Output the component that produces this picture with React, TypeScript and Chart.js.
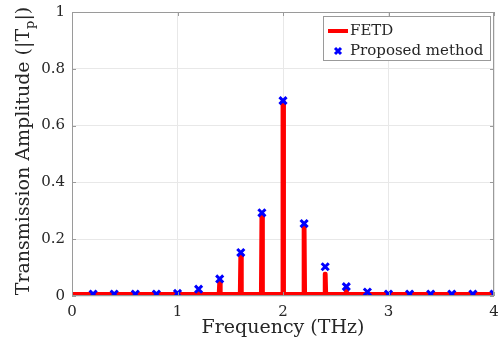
import React, { useEffect, useRef } from 'react';
import { Chart, registerables } from 'chart.js';

Chart.register(...registerables);

// FETD curve (THz, |Tp|): flat floor with narrow resonant spikes
const fetdFreq = [
  0,
  1.191, 1.196, 1.204, 1.209,
  1.391, 1.396, 1.404, 1.409,
  1.591, 1.596, 1.604, 1.609,
  1.791, 1.796, 1.804, 1.809,
  1.991, 1.996, 2.004, 2.009,
  2.191, 2.196, 2.204, 2.209,
  2.391, 2.396, 2.404, 2.409,
  2.591, 2.596, 2.604, 2.609,
  4,
];
const fetdAmp = [
  0.007,
  0.007, 0.012, 0.012, 0.007,
  0.007, 0.05, 0.05, 0.007,
  0.007, 0.145, 0.145, 0.007,
  0.007, 0.285, 0.285, 0.007,
  0.007, 0.683, 0.683, 0.007,
  0.007, 0.245, 0.245, 0.007,
  0.007, 0.078, 0.078, 0.007,
  0.007, 0.019, 0.019, 0.007,
  0.007,
];

// Proposed method samples
const methodFreq = [0.2, 0.4, 0.6, 0.8, 1.0, 1.2, 1.4, 1.6, 1.8, 2.0, 2.2, 2.4, 2.6, 2.8, 3.0, 3.2, 3.4, 3.6, 3.8, 4.0];
const methodAmp = [0.007, 0.007, 0.007, 0.007, 0.009, 0.024, 0.06, 0.153, 0.293, 0.688, 0.255, 0.103, 0.033, 0.014, 0.007, 0.007, 0.007, 0.007, 0.007, 0.007];

const xTicks = [0, 1, 2, 3, 4];
const yTicks = [0, 0.2, 0.4, 0.6, 0.8, 1];

const xTitle = 'Frequency (THz)';
const yTitleMain = 'Transmission Amplitude (|T';
const yTitleSub = 'p';
const yTitleEnd = '|)';
const seriesLabels = ['FETD', 'Proposed method'];

const FONT = "'DejaVu Serif', serif";
const TEXT = '#262626';
const AXIS = '#9a9a9a';
const RED = '#ff0000';
const BLUE = '#0000ff';

const framePlugin = {
  id: 'frame',
  afterDatasetsDraw(chart: any) {
    const { ctx, chartArea: a, scales } = chart;
    ctx.save();
    ctx.strokeStyle = AXIS;
    ctx.lineWidth = 1;
    ctx.strokeRect(a.left + 0.5, a.top + 0.5, a.right - a.left - 1, a.bottom - a.top - 1);
    ctx.beginPath();
    for (const v of xTicks) {
      const px = Math.round(scales.x.getPixelForValue(v)) + 0.5;
      ctx.moveTo(px, a.bottom);
      ctx.lineTo(px, a.bottom - 4);
      ctx.moveTo(px, a.top);
      ctx.lineTo(px, a.top + 4);
    }
    for (const v of yTicks) {
      const py = Math.round(scales.y.getPixelForValue(v)) + 0.5;
      ctx.moveTo(a.left, py);
      ctx.lineTo(a.left + 4, py);
      ctx.moveTo(a.right, py);
      ctx.lineTo(a.right - 4, py);
    }
    ctx.stroke();
    ctx.restore();
  },
  afterDraw(chart: any) {
    const { ctx, chartArea: a } = chart;
    ctx.save();
    ctx.fillStyle = TEXT;
    // x title
    ctx.font = `19px ${FONT}`;
    ctx.textAlign = 'center';
    ctx.textBaseline = 'middle';
    ctx.fillText(xTitle, (a.left + a.right) / 2, 328);
    // y title with subscript
    ctx.translate(22, 151);
    ctx.rotate(-Math.PI / 2);
    ctx.textAlign = 'left';
    ctx.textBaseline = 'alphabetic';
    const mainFont = `19px ${FONT}`;
    const subFont = `13px ${FONT}`;
    ctx.font = mainFont;
    const w1 = ctx.measureText(yTitleMain).width;
    const w3 = ctx.measureText(yTitleEnd).width;
    ctx.font = subFont;
    const w2 = ctx.measureText(yTitleSub).width;
    const total = w1 + w2 + w3;
    let x = -total / 2;
    const base = 7;
    ctx.font = mainFont;
    ctx.fillText(yTitleMain, x, base);
    x += w1;
    ctx.font = subFont;
    ctx.fillText(yTitleSub, x, base + 5);
    x += w2;
    ctx.font = mainFont;
    ctx.fillText(yTitleEnd, x, base);
    ctx.restore();

    // legend
    ctx.save();
    const lx = 323, ly = 16, lw = 167, lh = 44;
    ctx.fillStyle = '#ffffff';
    ctx.fillRect(lx, ly, lw, lh);
    ctx.strokeStyle = AXIS;
    ctx.lineWidth = 1;
    ctx.strokeRect(lx + 0.5, ly + 0.5, lw, lh);
    ctx.strokeStyle = RED;
    ctx.lineWidth = 4;
    ctx.beginPath();
    ctx.moveTo(328, 31);
    ctx.lineTo(348, 31);
    ctx.stroke();
    ctx.strokeStyle = BLUE;
    ctx.lineWidth = 3;
    ctx.beginPath();
    const d = 3;
    ctx.moveTo(338 - d, 51 - d);
    ctx.lineTo(338 + d, 51 + d);
    ctx.moveTo(338 - d, 51 + d);
    ctx.lineTo(338 + d, 51 - d);
    ctx.stroke();
    ctx.fillStyle = TEXT;
    ctx.font = `15px ${FONT}`;
    ctx.textAlign = 'left';
    ctx.textBaseline = 'middle';
    ctx.fillText(seriesLabels[0], 350, 31);
    ctx.fillText(seriesLabels[1], 350, 51);
    ctx.restore();
  },
};

export default function App() {
  const ref = useRef<HTMLCanvasElement | null>(null);
  useEffect(() => {
    if (!ref.current) return;
    const chart = new Chart(ref.current, {
      type: 'line',
      data: {
        datasets: [
          {
            label: seriesLabels[0],
            data: fetdFreq.map((f, i) => ({ x: f, y: fetdAmp[i] })),
            borderColor: RED,
            backgroundColor: RED,
            borderWidth: 4,
            pointRadius: 0,
            borderJoinStyle: 'round',
            tension: 0,
            clip: 0,
            order: 2,
          } as any,
          {
            type: 'scatter',
            label: seriesLabels[1],
            data: methodFreq.map((f, i) => ({ x: f, y: methodAmp[i] })),
            showLine: false,
            pointStyle: 'crossRot',
            pointRadius: 5,
            pointBorderWidth: 3,
            borderColor: BLUE,
            backgroundColor: BLUE,
            clip: 0,
            order: 1,
          } as any,
        ],
      },
      options: {
        responsive: false,
        animation: false,
        devicePixelRatio: 1,
        layout: { autoPadding: false, padding: { top: 12, right: 4, left: 0, bottom: 0 } },
        plugins: { legend: { display: false }, tooltip: { enabled: false } },
        scales: {
          x: {
            type: 'linear',
            min: 0,
            max: 4,
            afterFit: (s: any) => { s.height = 55; s.paddingLeft = 0; s.paddingRight = 0; },
            afterBuildTicks: (s: any) => { s.ticks = xTicks.map((v) => ({ value: v })); },
            ticks: { color: TEXT, font: { family: FONT, size: 15 }, padding: 7, maxRotation: 0, callback: (v: any) => String(v) },
            grid: { color: '#e8e8e8', drawTicks: false },
            border: { display: false },
          },
          y: {
            type: 'linear',
            min: 0,
            max: 1,
            afterFit: (s: any) => { s.width = 72; s.paddingTop = 0; s.paddingBottom = 0; },
            afterBuildTicks: (s: any) => { s.ticks = yTicks.map((v) => ({ value: v })); },
            ticks: { color: TEXT, font: { family: FONT, size: 15 }, padding: 7, callback: (v: any) => String(v) },
            grid: { color: '#e8e8e8', drawTicks: false },
            border: { display: false },
          },
        },
      },
      plugins: [framePlugin],
    });
    return () => chart.destroy();
  }, []);
  return (
    <div style={{ position: 'absolute', left: 0, top: 0, width: 498, height: 351, background: '#fff' }}>
      <canvas ref={ref} width={498} height={351} style={{ display: 'block' }} />
    </div>
  );
}
